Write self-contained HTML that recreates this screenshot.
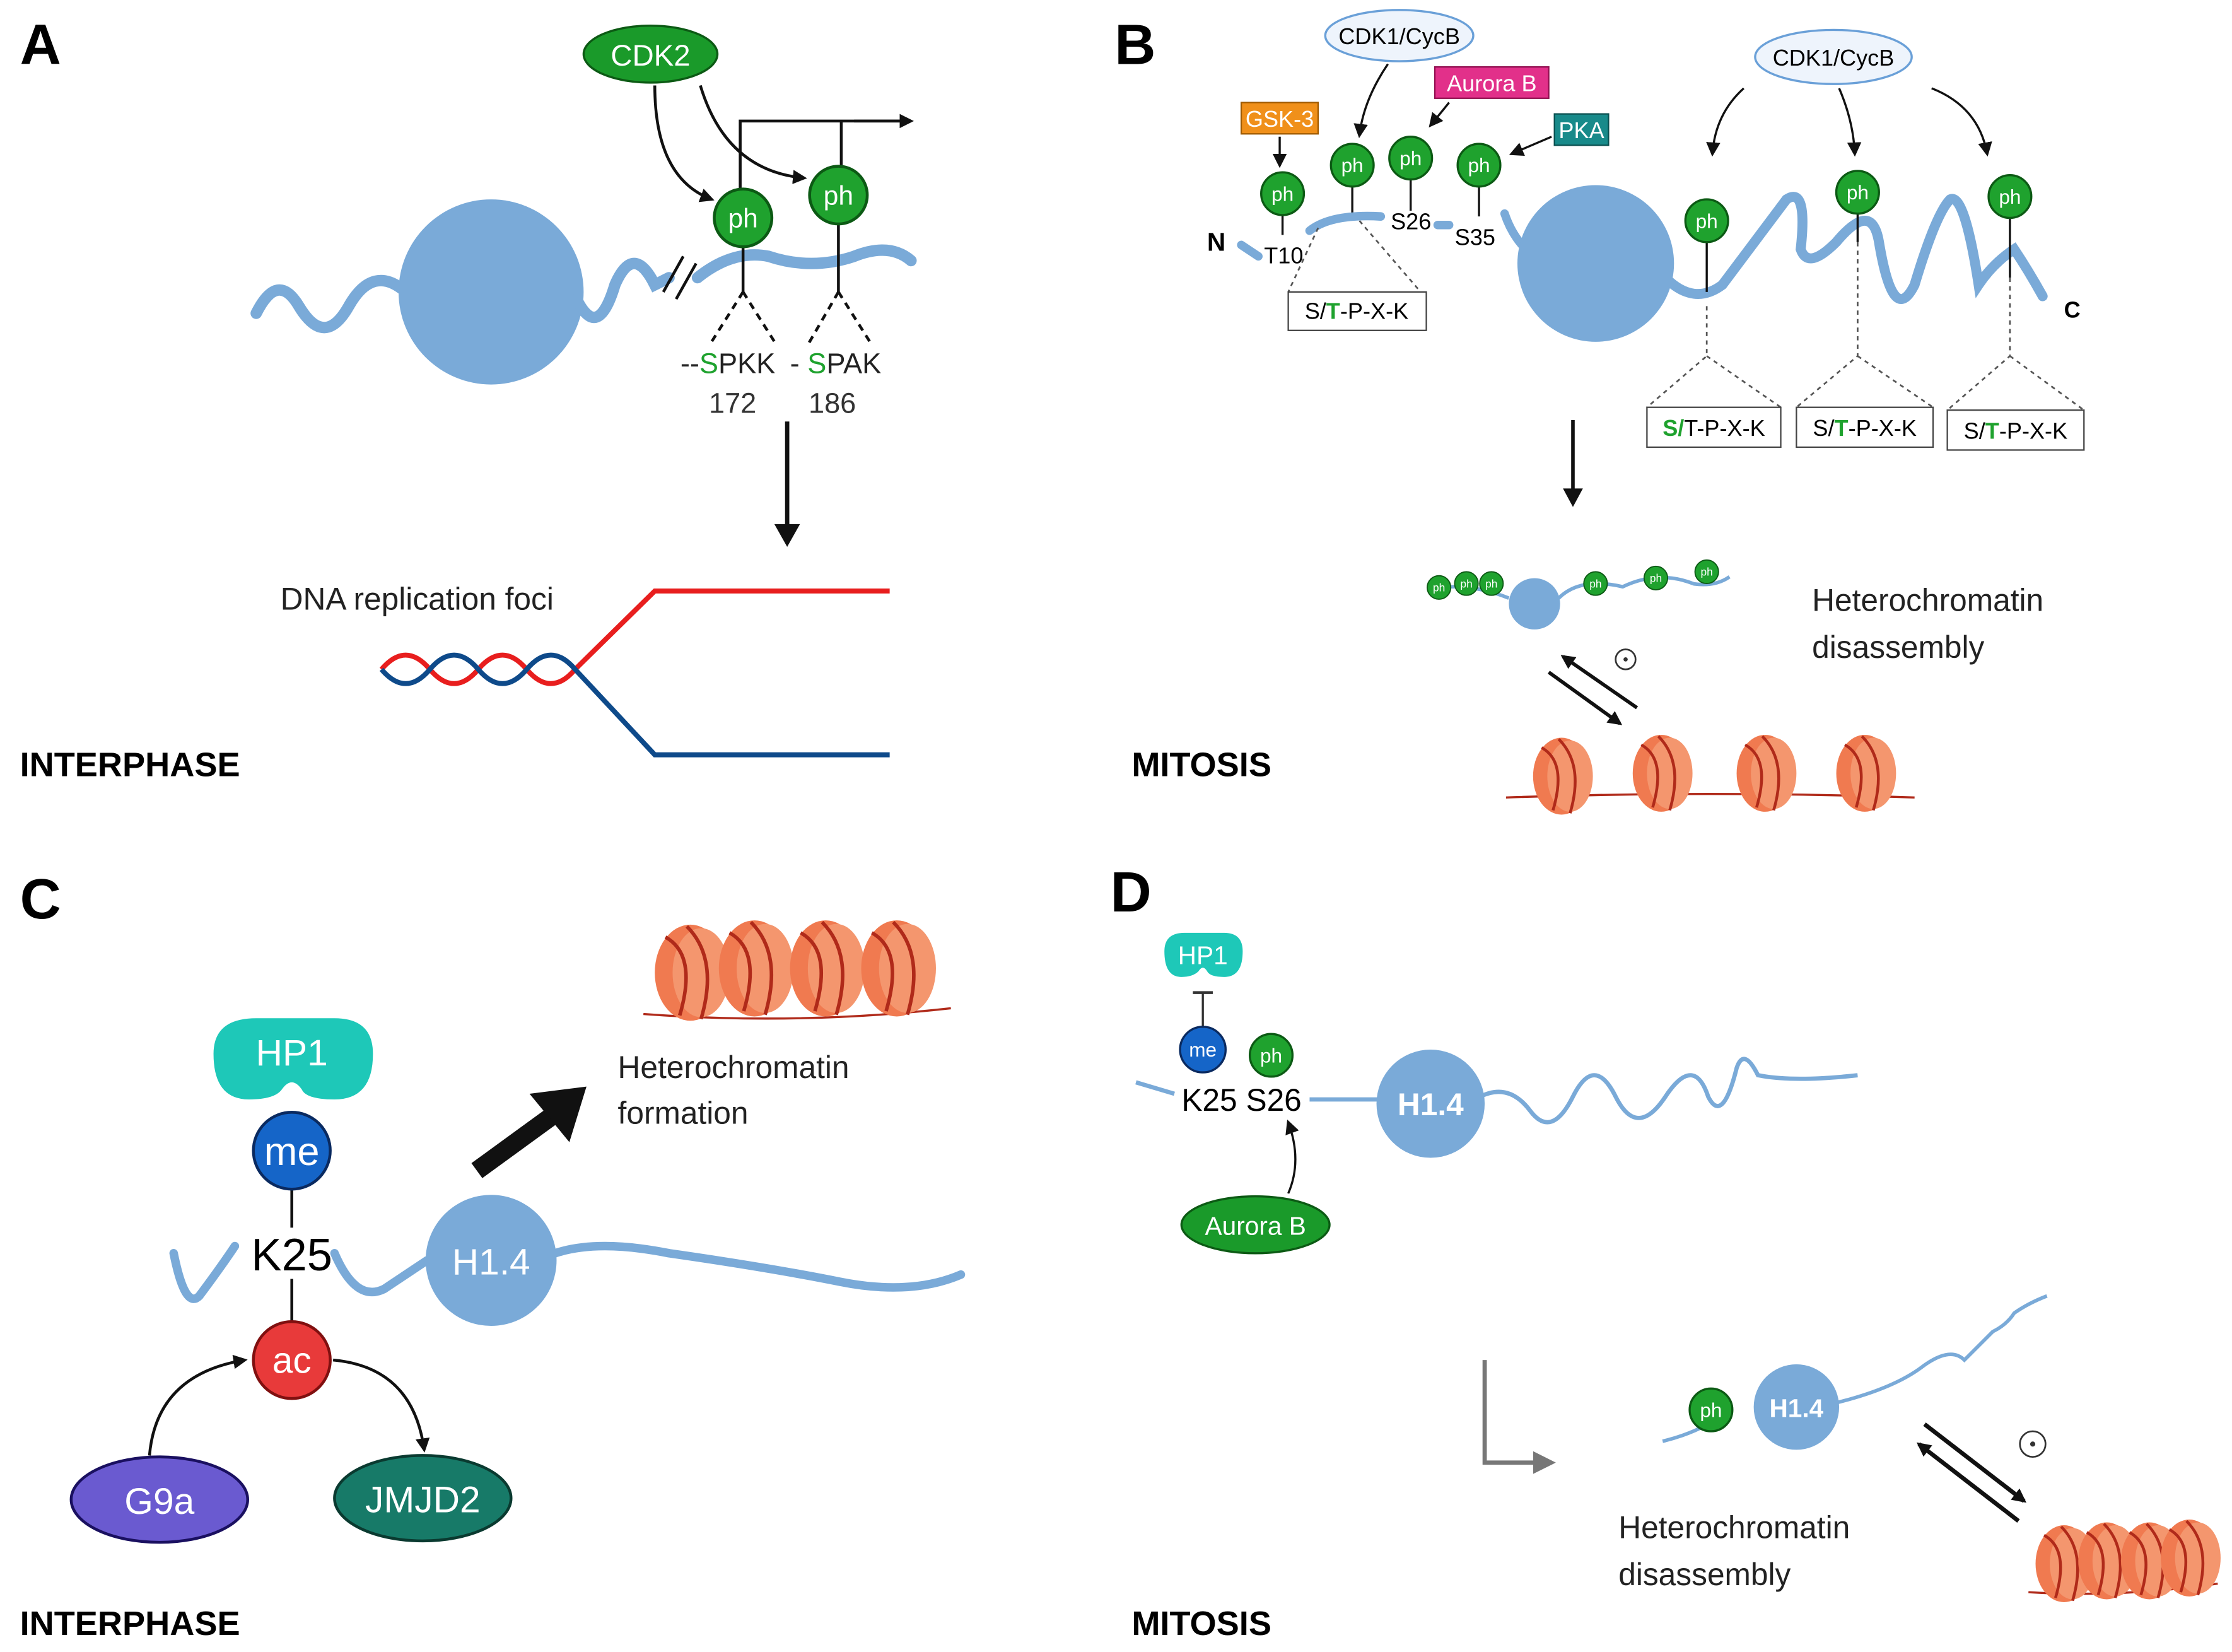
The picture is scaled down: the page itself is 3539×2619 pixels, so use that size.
<!DOCTYPE html>
<html><head><meta charset="utf-8"><style>html,body{margin:0;padding:0;background:#fff}svg{display:block}</style></head>
<body>
<svg width="3539" height="2619" viewBox="0 0 1568 1160" preserveAspectRatio="none" xmlns="http://www.w3.org/2000/svg" font-family="Liberation Sans, sans-serif">
<defs>
<marker id="ah" markerWidth="10" markerHeight="10" refX="8" refY="5" orient="auto" markerUnits="userSpaceOnUse"><path d="M0,0 L10,5 L0,10 z" fill="#111"/></marker>
<marker id="ahg" markerWidth="16" markerHeight="16" refX="13" refY="8" orient="auto" markerUnits="userSpaceOnUse"><path d="M0,0 L16,8 L0,16 z" fill="#777"/></marker>
<g id="nuc">
<ellipse cx="0" cy="0" rx="20" ry="27" fill="#f07a50"/>
<ellipse cx="6" cy="0" rx="16" ry="25" fill="#f4966e"/>
<path d="M-14,-20 Q4,-10 -6,24 M-2,-26 Q16,-8 6,26" stroke="#b02a1a" stroke-width="2" fill="none"/>
</g>
<g id="ph"><circle r="15" fill="#1fa22e" stroke="#0c5a14" stroke-width="1.5"/><text y="5" text-anchor="middle" fill="#fff" font-size="14">ph</text></g>
</defs>

<!-- Panel A -->
<text x="14" y="45" font-size="40" font-weight="bold">A</text>
<path d="M180,220 Q195,190 210,215 Q228,245 245,215 Q262,185 285,205" stroke="#7aaad8" stroke-width="8" fill="none" stroke-linecap="round"/>
<circle cx="345" cy="205" r="65" fill="#7aaad8"/>
<path d="M405,210 Q420,240 432,200 Q445,170 460,200 L470,195" stroke="#7aaad8" stroke-width="8" fill="none" stroke-linecap="round"/>
<path d="M466,205 L480,180 M475,210 L489,185" stroke="#111" stroke-width="2"/>
<path d="M490,195 Q515,175 540,180 Q570,190 600,180 Q625,170 640,183" stroke="#7aaad8" stroke-width="8" fill="none" stroke-linecap="round"/>
<ellipse cx="457" cy="38" rx="47" ry="20" fill="#1a9a2a" stroke="#0c5a14" stroke-width="1.5"/>
<text x="457" y="46" text-anchor="middle" fill="#fff" font-size="21">CDK2</text>
<path d="M460,60 Q460,125 500,140" stroke="#111" stroke-width="2" fill="none" marker-end="url(#ah)"/>
<path d="M492,60 Q510,120 565,125" stroke="#111" stroke-width="2" fill="none" marker-end="url(#ah)"/>
<path d="M520,133 L520,85 L640,85 M591,117 L591,85" stroke="#111" stroke-width="2" fill="none"/>
<path d="M600,85 L640,85" stroke="#111" stroke-width="2" marker-end="url(#ah)"/>
<line x1="522" y1="173" x2="522" y2="205" stroke="#111" stroke-width="2"/>
<line x1="589" y1="157" x2="589" y2="205" stroke="#111" stroke-width="2"/>
<path d="M522,205 L498,243 M522,205 L546,243 M589,205 L567,243 M589,205 L613,243" stroke="#111" stroke-width="2" stroke-dasharray="5,4"/>
<g transform="translate(522,153) scale(1.35)"><use href="#ph"/></g>
<g transform="translate(589,137) scale(1.35)"><use href="#ph"/></g>
<text x="478" y="262" font-size="20" fill="#222">--<tspan fill="#1fa22e">S</tspan>PKK</text>
<text x="555" y="262" font-size="20" fill="#222">- <tspan fill="#1fa22e">S</tspan>PAK</text>
<text x="498" y="290" font-size="20" fill="#333">172</text>
<text x="568" y="290" font-size="20" fill="#333">186</text>
<line x1="553" y1="296" x2="553" y2="372" stroke="#111" stroke-width="3"/>
<path d="M544,368 L553,384 L562,368 z" fill="#111"/>
<text x="197" y="428" font-size="22" fill="#222">DNA replication foci</text>
<path d="M268,470 Q285,450 302,470 T336,470 T370,470 T404,470 L460,415 L625,415" stroke="#e81e1e" stroke-width="3.5" fill="none"/>
<path d="M268,470 Q285,490 302,470 T336,470 T370,470 T404,470 L460,530 L625,530" stroke="#0e4a8a" stroke-width="3.5" fill="none"/>
<text x="14" y="545" font-size="24" font-weight="bold">INTERPHASE</text>

<!-- Panel B -->
<text x="783" y="45" font-size="40" font-weight="bold">B</text>
<ellipse cx="983" cy="25" rx="52" ry="18" fill="#eef4fc" stroke="#6aa0d8" stroke-width="1.5"/>
<text x="983" y="31" text-anchor="middle" font-size="16">CDK1/CycB</text>
<rect x="1008" y="47" width="80" height="22" fill="#e2308a" stroke="#901050"/>
<text x="1048" y="64" text-anchor="middle" fill="#fff" font-size="16">Aurora B</text>
<rect x="872" y="72" width="54" height="22" fill="#f0901a" stroke="#a05a00"/>
<text x="899" y="89" text-anchor="middle" fill="#fff" font-size="16">GSK-3</text>
<rect x="1092" y="80" width="38" height="22" fill="#188a8a" stroke="#0a5050"/>
<text x="1111" y="97" text-anchor="middle" fill="#fff" font-size="16">PKA</text>
<line x1="899" y1="96" x2="899" y2="116" stroke="#111" stroke-width="1.5" marker-end="url(#ah)"/>
<path d="M975,45 Q958,70 955,95" stroke="#111" stroke-width="1.5" fill="none" marker-end="url(#ah)"/>
<line x1="1018" y1="72" x2="1005" y2="88" stroke="#111" stroke-width="1.5" marker-end="url(#ah)"/>
<line x1="1090" y1="96" x2="1062" y2="108" stroke="#111" stroke-width="1.5" marker-end="url(#ah)"/>
<path d="M901,150 V165 M950,131 V150 M991,126 V148 M1039,131 V152" stroke="#111" stroke-width="1.5"/>
<use href="#ph" x="901" y="136"/><use href="#ph" x="950" y="116"/><use href="#ph" x="991" y="111"/><use href="#ph" x="1039" y="116"/>
<text x="848" y="176" font-size="18" font-weight="bold">N</text>
<text x="888" y="185" font-size="16">T10</text>
<text x="977" y="161" font-size="16">S26</text>
<text x="1022" y="172" font-size="16">S35</text>
<path d="M872,172 L884,180 M920,162 Q935,150 970,152 M1010,158 L1018,158 M1057,150 Q1062,165 1072,175" stroke="#7aaad8" stroke-width="6" fill="none" stroke-linecap="round"/>
<path d="M926,160 L905,205 M955,155 L998,205" stroke="#555" stroke-width="1.2" stroke-dasharray="3,3"/>
<rect x="905" y="205" width="97" height="27" fill="#fff" stroke="#444"/>
<text x="953" y="224" text-anchor="middle" font-size="16">S/<tspan fill="#1fa22e" font-weight="bold">T</tspan>-P-X-K</text>
<circle cx="1121" cy="185" r="55" fill="#7aaad8"/>
<path d="M1170,195 Q1190,215 1210,200 Q1240,160 1255,140 Q1270,130 1265,175 Q1270,190 1290,170 Q1315,140 1320,170 Q1330,230 1345,200 Q1360,150 1370,140 Q1380,135 1390,200 Q1400,185 1415,175 Q1425,190 1435,208" stroke="#7aaad8" stroke-width="7" fill="none" stroke-linecap="round"/>
<ellipse cx="1288" cy="40" rx="55" ry="19" fill="#eef4fc" stroke="#6aa0d8" stroke-width="1.5"/>
<text x="1288" y="46" text-anchor="middle" font-size="16">CDK1/CycB</text>
<path d="M1225,62 Q1205,80 1203,108" stroke="#111" stroke-width="1.5" fill="none" marker-end="url(#ah)"/>
<path d="M1292,62 Q1302,85 1303,108" stroke="#111" stroke-width="1.5" fill="none" marker-end="url(#ah)"/>
<path d="M1357,62 Q1390,75 1396,108" stroke="#111" stroke-width="1.5" fill="none" marker-end="url(#ah)"/>
<path d="M1199,170 V205 M1305,150 V170 M1412,153 V195" stroke="#111" stroke-width="1.5"/>
<path d="M1199,215 V250 L1157,286 M1199,250 L1251,286 M1305,170 V250 L1262,286 M1305,250 L1358,286 M1412,195 V250 L1368,288 M1412,250 L1464,288" stroke="#555" stroke-width="1.2" stroke-dasharray="3,3" fill="none"/>
<use href="#ph" x="1199" y="155"/><use href="#ph" x="1305" y="135"/><use href="#ph" x="1412" y="138"/>
<text x="1450" y="223" font-size="16" font-weight="bold">C</text>
<rect x="1157" y="286" width="94" height="28" fill="#fff" stroke="#444"/>
<text x="1204" y="306" text-anchor="middle" font-size="16"><tspan fill="#1fa22e" font-weight="bold">S/</tspan>T-P-X-K</text>
<rect x="1262" y="286" width="96" height="28" fill="#fff" stroke="#444"/>
<text x="1310" y="306" text-anchor="middle" font-size="16">S/<tspan fill="#1fa22e" font-weight="bold">T</tspan>-P-X-K</text>
<rect x="1368" y="288" width="96" height="28" fill="#fff" stroke="#444"/>
<text x="1416" y="308" text-anchor="middle" font-size="16">S/<tspan fill="#1fa22e" font-weight="bold">T</tspan>-P-X-K</text>
<line x1="1105" y1="295" x2="1105" y2="345" stroke="#111" stroke-width="2.5"/>
<path d="M1098,343 L1105,356 L1112,343 z" fill="#111"/>
<path d="M1003,414 Q1030,408 1060,420 M1095,420 Q1110,405 1140,412 Q1165,400 1190,410 Q1205,412 1215,405" stroke="#7aaad8" stroke-width="2.5" fill="none"/>
<circle cx="1078" cy="424" r="18" fill="#7aaad8"/>
<g transform="scale(0.55)">
<use href="#ph" x="1838" y="750"/><use href="#ph" x="1873" y="745"/><use href="#ph" x="1905" y="745"/><use href="#ph" x="2038" y="745"/><use href="#ph" x="2115" y="738"/><use href="#ph" x="2180" y="730"/>
</g>
<text x="1273" y="429" font-size="22" fill="#222">Heterochromatin</text>
<text x="1273" y="462" font-size="22" fill="#222">disassembly</text>
<line x1="1150" y1="497" x2="1098" y2="461" stroke="#111" stroke-width="2.5" marker-end="url(#ah)"/>
<line x1="1088" y1="472" x2="1138" y2="508" stroke="#111" stroke-width="2.5" marker-end="url(#ah)"/>
<circle cx="1142" cy="463" r="7" fill="none" stroke="#333" stroke-width="1.2"/><circle cx="1142" cy="463" r="1.5" fill="#333"/>
<path d="M1058,560 Q1200,555 1345,560" stroke="#b02a1a" stroke-width="1.5" fill="none"/>
<use href="#nuc" x="1097" y="545"/><use href="#nuc" x="1167" y="543"/><use href="#nuc" x="1240" y="543"/><use href="#nuc" x="1310" y="543"/>
<text x="795" y="545" font-size="24" font-weight="bold">MITOSIS</text>

<!-- Panel C -->
<text x="14" y="645" font-size="40" font-weight="bold">C</text>
<path d="M150,740 Q150,715 180,715 L235,715 Q262,715 262,740 Q262,772 235,772 Q215,772 212,765 Q205,755 198,765 Q193,772 175,772 Q150,772 150,740 z" fill="#1ec8b8"/>
<text x="205" y="748" text-anchor="middle" fill="#fff" font-size="26">HP1</text>
<line x1="205" y1="835" x2="205" y2="862" stroke="#111" stroke-width="2"/>
<line x1="205" y1="898" x2="205" y2="928" stroke="#111" stroke-width="2"/>
<circle cx="205" cy="808" r="27" fill="#1565c8" stroke="#0a2a60" stroke-width="2"/>
<text x="205" y="818" text-anchor="middle" fill="#fff" font-size="28">me</text>
<text x="205" y="892" text-anchor="middle" font-size="32">K25</text>
<circle cx="205" cy="955" r="27" fill="#e83a3a" stroke="#801010" stroke-width="2"/>
<text x="205" y="964" text-anchor="middle" fill="#fff" font-size="26">ac</text>
<path d="M122,880 Q130,920 140,910 Q155,890 165,875" stroke="#7aaad8" stroke-width="6" fill="none" stroke-linecap="round"/>
<path d="M235,880 Q250,915 270,905 Q285,895 300,885" stroke="#7aaad8" stroke-width="6" fill="none" stroke-linecap="round"/>
<circle cx="345" cy="885" r="46" fill="#7aaad8"/>
<text x="345" y="895" text-anchor="middle" fill="#fff" font-size="26">H1.4</text>
<path d="M390,880 Q420,870 470,880 Q540,890 590,900 Q640,910 675,895" stroke="#7aaad8" stroke-width="6" fill="none" stroke-linecap="round"/>
<ellipse cx="112" cy="1053" rx="62" ry="30" fill="#6a5ad0" stroke="#1a1060" stroke-width="2"/>
<text x="112" y="1063" text-anchor="middle" fill="#fff" font-size="26">G9a</text>
<ellipse cx="297" cy="1052" rx="62" ry="30" fill="#177a68" stroke="#0a3a30" stroke-width="2"/>
<text x="297" y="1062" text-anchor="middle" fill="#fff" font-size="26">JMJD2</text>
<path d="M105,1022 Q110,965 172,955" stroke="#111" stroke-width="2" fill="none" marker-end="url(#ah)"/>
<path d="M234,955 Q290,960 298,1018" stroke="#111" stroke-width="2" fill="none" marker-end="url(#ah)"/>
<line x1="335" y1="822" x2="390" y2="782" stroke="#111" stroke-width="13"/>
<path d="M372,768 L412,763 L400,802 z" fill="#111"/>
<text x="434" y="757" font-size="22" fill="#222">Heterochromatin</text>
<text x="434" y="789" font-size="22" fill="#222">formation</text>
<g transform="translate(0,0)">
<path d="M452,712 Q560,720 668,708" stroke="#b02a1a" stroke-width="1.5" fill="none"/>
<g transform="translate(485,683) scale(1.25)"><use href="#nuc"/></g>
<g transform="translate(530,680) scale(1.25)"><use href="#nuc"/></g>
<g transform="translate(580,680) scale(1.25)"><use href="#nuc"/></g>
<g transform="translate(630,680) scale(1.25)"><use href="#nuc"/></g>
</g>
<text x="14" y="1148" font-size="24" font-weight="bold">INTERPHASE</text>

<!-- Panel D -->
<text x="780" y="640" font-size="40" font-weight="bold">D</text>
<path d="M818,668 Q818,655 832,655 L860,655 Q873,655 873,668 Q873,686 860,686 Q850,686 848,682 Q845,677 842,682 Q838,686 830,686 Q818,686 818,668 z" fill="#1ec8b8"/>
<text x="845" y="677" text-anchor="middle" fill="#fff" font-size="18">HP1</text>
<line x1="845" y1="722" x2="845" y2="697" stroke="#333" stroke-width="1.5"/>
<line x1="838" y1="697" x2="852" y2="697" stroke="#333" stroke-width="2"/>
<circle cx="845" cy="737" r="16" fill="#1565c8" stroke="#0a2a60" stroke-width="1.5"/>
<text x="845" y="742" text-anchor="middle" fill="#fff" font-size="14">me</text>
<use href="#ph" x="893" y="741"/>
<text x="830" y="780" font-size="22">K25 S26</text>
<path d="M798,760 L825,768 M920,772 L970,772" stroke="#7aaad8" stroke-width="3" fill="none"/>
<circle cx="1005" cy="775" r="38" fill="#7aaad8"/>
<text x="1005" y="783" text-anchor="middle" fill="#fff" font-size="22" font-weight="bold">H1.4</text>
<path d="M1040,770 Q1060,760 1075,780 Q1090,800 1105,770 Q1120,740 1135,770 Q1150,800 1170,770 Q1190,740 1200,770 Q1210,790 1220,750 Q1225,735 1235,755 Q1260,760 1305,755" stroke="#7aaad8" stroke-width="3" fill="none"/>
<ellipse cx="882" cy="860" rx="52" ry="20" fill="#1a9a2a" stroke="#0c5a14" stroke-width="1.5"/>
<text x="882" y="867" text-anchor="middle" fill="#fff" font-size="18">Aurora B</text>
<path d="M905,838 Q915,815 905,788" stroke="#111" stroke-width="1.5" fill="none" marker-end="url(#ah)"/>
<path d="M1043,955 L1043,1027 L1090,1027" stroke="#777" stroke-width="3" fill="none" marker-end="url(#ahg)"/>
<path d="M1168,1012 Q1185,1008 1200,1000 M1290,985 Q1330,975 1350,960 Q1370,945 1380,955 Q1390,945 1400,935 Q1410,930 1415,922 Q1425,915 1438,910" stroke="#7aaad8" stroke-width="2.5" fill="none"/>
<circle cx="1262" cy="988" r="30" fill="#7aaad8"/>
<text x="1262" y="995" text-anchor="middle" fill="#fff" font-size="18" font-weight="bold">H1.4</text>
<use href="#ph" x="1202" y="990"/>
<line x1="1418" y1="1068" x2="1348" y2="1014" stroke="#111" stroke-width="3" marker-end="url(#ah)"/>
<line x1="1352" y1="1000" x2="1422" y2="1054" stroke="#111" stroke-width="3" marker-end="url(#ah)"/>
<circle cx="1428" cy="1014" r="9" fill="none" stroke="#333" stroke-width="1.2"/><circle cx="1428" cy="1014" r="1.8" fill="#333"/>
<text x="1137" y="1080" font-size="22" fill="#222">Heterochromatin</text>
<text x="1137" y="1113" font-size="22" fill="#222">disassembly</text>
<path d="M1425,1118 Q1490,1122 1558,1112" stroke="#b02a1a" stroke-width="1.5" fill="none"/>
<g transform="translate(1450,1098)"><use href="#nuc"/></g>
<g transform="translate(1480,1096)"><use href="#nuc"/></g>
<g transform="translate(1510,1096)"><use href="#nuc"/></g>
<g transform="translate(1538,1094)"><use href="#nuc"/></g>
<text x="795" y="1148" font-size="24" font-weight="bold">MITOSIS</text>
</svg>
</body></html>
